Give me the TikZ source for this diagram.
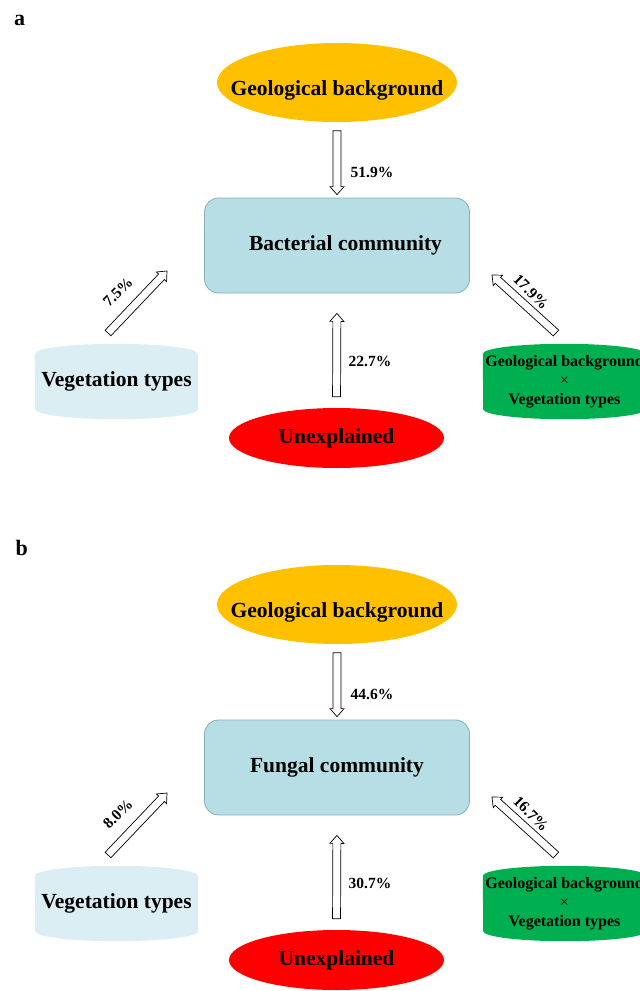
\documentclass[tikz,border=0pt]{standalone}
\usepackage{fontspec}
\setmainfont{Liberation Serif}
\usetikzlibrary{calc,shapes.geometric,backgrounds}

\definecolor{geoorange}{RGB}{255,192,0}
\definecolor{commblue}{RGB}{183,222,228}
\definecolor{commline}{RGB}{135,175,185}
\definecolor{vegblue}{RGB}{218,238,243}
\definecolor{mixgreen}{RGB}{0,176,80}
\definecolor{unexred}{RGB}{255,0,0}

\tikzset{
	big/.style={font=\fontsize{21.5}{25}\selectfont\bfseries},
	pct/.style={font=\fontsize{15.5}{18}\selectfont\bfseries},
	letter/.style={font=\fontsize{22}{25}\selectfont\bfseries, anchor=base west, inner sep=0pt},
	geobox/.style={ellipse, fill=geoorange, minimum width=240pt, minimum height=79pt, inner xsep=-35pt, inner ysep=0pt, text height=25pt, text depth=0pt, big},
	unexbox/.style={ellipse, fill=unexred, minimum width=215pt, minimum height=60pt, inner sep=0pt, big},
	commbox/.style={rectangle, rounded corners=14pt, fill=commblue, draw=commline, line width=0.8pt, minimum width=265pt, minimum height=95pt, big},
	barrel/.style={minimum width=163pt, minimum height=75pt, inner sep=0pt},
	blockarrow/.style 2 args={draw, fill=white, line width=0.7pt, to path={
		let \p1=(\tikztostart), \p2=(\tikztotarget),
			\n1={atan2(\y2-\y1,\x2-\x1)}, \n2={veclen(\x2-\x1,\y2-\y1)} in
		($(\p1)+(\n1:#1)+(\n1+90:4pt)$) -- ($(\p1)+(\n1:\n2-#2-8pt)+(\n1+90:4pt)$)
		-- ($(\p1)+(\n1:\n2-#2-8pt)+(\n1+90:7pt)$) -- ($(\p1)+(\n1:\n2-#2)$)
		-- ($(\p1)+(\n1:\n2-#2-8pt)+(\n1-90:7pt)$) -- ($(\p1)+(\n1:\n2-#2-8pt)+(\n1-90:4pt)$)
		-- ($(\p1)+(\n1:#1)+(\n1-90:4pt)$) -- cycle}}
}

% flat-topped drum behind a barrel node
\newcommand\barrelfill[2]{%
	\fill[#2] ([yshift=-10pt]#1.north west) arc[start angle=180, end angle=0, x radius=81.5pt, y radius=10pt]
		-- ([yshift=10pt]#1.south east) arc[start angle=0, end angle=-180, x radius=81.5pt, y radius=10pt] -- cycle;}

\begin{document}
\begin{tikzpicture}[x=1pt, y=-1pt]
	\useasboundingbox (0,0) rectangle (640,991);
	\node[letter] (la) at (14,25) {a};
	\node[letter] (lb) at (15.5,555) {b};

	\foreach \dy/\comm/\tx/\pa/\pb/\pc/\pd in {0/Bacterial/17/51.9/7.5/17.9/22.7, 522/Fungal/0/44.6/8.0/16.7/30.7}{
		\node[geobox] (geo\dy) at (337,82.5+\dy) {Geological background};
		\node[commbox] (comm\dy) at (337,245.5+\dy) {\hspace*{\tx pt}\comm\ community};
		\node[unexbox] (unex\dy) at (336.5,438+\dy) {Unexplained};
		\node[barrel, big] (veg\dy) at (116.5,381.5+\dy) {Vegetation types};
		\node[barrel, align=center, font=\fontsize{16}{19}\selectfont\bfseries] (mix\dy) at (564.5,381.5+\dy)
			{Geological background\\{\mdseries ×}\\Vegetation types};
		\begin{scope}[on background layer]
			\barrelfill{veg\dy}{vegblue}
			\barrelfill{mix\dy}{mixgreen}
		\end{scope}

		\coordinate (vt\dy) at (108,333+\dy);
		\coordinate (vh\dy) at (167,271+\dy);
		\coordinate (mt\dy) at (556,333+\dy);
		\coordinate (mh\dy) at (492,275+\dy);
		\draw[blockarrow={8.5pt}{3pt}] (geo\dy.south) to (comm\dy.north);
		\draw[blockarrow={11pt}{20pt}] (unex\dy.north) to (comm\dy.south);
		\draw[blockarrow={0pt}{0pt}] (vt\dy) to (vh\dy);
		\draw[blockarrow={0pt}{0pt}] (mt\dy) to (mh\dy);

		\node[pct] (pg\dy) at (372,172+\dy) {\pa\%};
		\node[pct, rotate=45] (pv\dy) at (118,292+\dy) {\pb\%};
		\node[pct, rotate=-45] (pm\dy) at (531,292+\dy) {\pc\%};
		\node[pct] (pu\dy) at (370,361+\dy) {\pd\%};
	}
\end{tikzpicture}
\end{document}
